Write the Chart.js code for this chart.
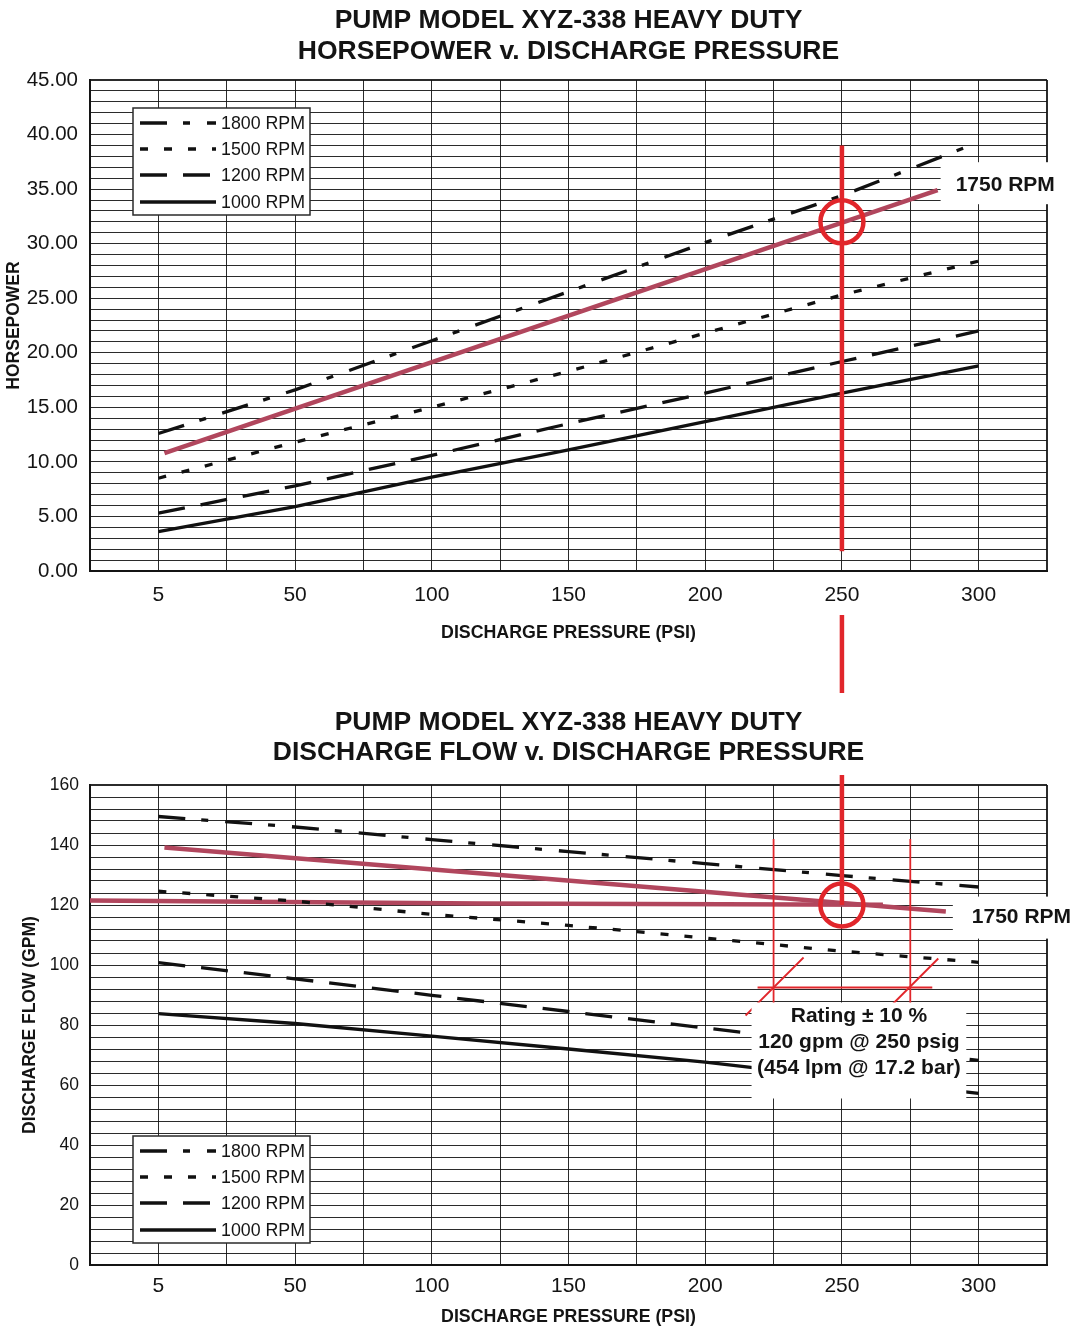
<!DOCTYPE html>
<html>
<head>
<meta charset="utf-8">
<title>Pump Model XYZ-338 Heavy Duty</title>
<script src="https://cdn.jsdelivr.net/npm/chart.js@4.4.1/dist/chart.umd.min.js"></script>
<style>
  html, body { margin: 0; padding: 0; background: #fff; }
  #wrap { position: relative; width: 1073px; height: 1328px; overflow: hidden; }
  canvas { position: absolute; left: 0; }
  #hp { top: 0; }
  #flow { top: 700px; }
</style>
</head>
<body>
<div id="wrap">
  <canvas id="hp" width="1073" height="700"></canvas>
  <canvas id="flow" width="1073" height="628"></canvas>
</div>
<script>
// ---- data -------------------------------------------------------------
// Pressure tick labels (psi); the chart spaces them evenly.
const PRESSURE_TICKS = [5, 50, 100, 150, 200, 250, 300];
const RPM_LABELS = ['1800 RPM', '1500 RPM', '1200 RPM', '1000 RPM'];

// Horsepower at each pressure tick
const HP_1800 = [12.6, 16.6, 21.1, 25.6, 30.1, 34.4, 39.3];
const HP_1500 = [8.5, 11.8, 15.0, 18.3, 21.8, 25.3, 28.4];
const HP_1200 = [5.3, 7.8, 10.6, 13.5, 16.3, 19.2, 22.0];
const HP_1000 = [3.6, 5.9, 8.6, 11.1, 13.7, 16.3, 18.8];
const HP_1750_PSI = [7, 285];
const HP_1750 = [10.8, 34.9];

// Discharge flow (gpm) at each pressure tick
const GPM_1800 = [149.5, 146.0, 141.8, 137.8, 133.8, 129.8, 126.0];
const GPM_1500 = [124.6, 121.3, 116.9, 113.2, 109.0, 104.6, 100.9];
const GPM_1200 = [100.8, 95.4, 89.9, 84.5, 79.0, 73.6, 68.2];
const GPM_1000 = [83.8, 80.5, 76.3, 72.0, 67.6, 62.4, 57.2];
const GPM_1750_PSI = [7, 288];
const GPM_1750 = [139.2, 117.8];
const GPM_1750_FLAT_PSI = [-17.5, 118, 265];
const GPM_1750_FLAT = [121.5, 120.5, 120.1];

// Rated duty point
const RATED_PSI = 250;
const RATED_HP = 32;
const RATED_GPM = 120;
const RATING_TOLERANCE = 0.10;

// ---- styling ----------------------------------------------------------
const FONT = '"Liberation Sans", Arial, Helvetica, sans-serif';
const INK = '#141414';
const GRID = 'rgba(20,20,20,0.9)';
const RED = '#e1262b';
const CRIMSON = '#b1465d';
const DASHES = { '1800 RPM': [27, 16, 7, 17], '1500 RPM': [8, 16], '1200 RPM': [27, 16], '1000 RPM': [] };

// Map a pressure onto the evenly spaced tick positions.
function psiToPos(p) {
  const t = PRESSURE_TICKS, n = t.length;
  let i = 0;
  if (p >= t[n - 1]) i = n - 2;
  else if (p > t[0]) { while (p > t[i + 1]) i++; }
  return i + (p - t[i]) / (t[i + 1] - t[i]);
}
const points = (psi, vals) => psi.map((p, i) => ({ x: psiToPos(p), y: vals[i] }));

function rpmSet(label, vals) {
  return {
    label, data: points(PRESSURE_TICKS, vals),
    borderColor: '#111', borderWidth: 3.3, borderDash: DASHES[label],
    borderCapStyle: 'butt', pointRadius: 0, fill: false, tension: 0
  };
}
function redSet(label, psi, vals) {
  return {
    label, data: points(psi, vals),
    borderColor: CRIMSON, borderWidth: 4.5, borderCapStyle: 'butt',
    pointRadius: 0, fill: false, tension: 0
  };
}

// Boxed key of the RPM curves, drawn over the plot.
const rpmLegend = {
  id: 'rpmLegend',
  afterDatasetsDraw(chart, args, o) {
    const { ctx, chartArea: a } = chart;
    const w = 177, h = 107;
    const left = a.left + 43;
    const top = o.fromTop ? a.top + 28 : a.bottom - 22 - h;
    ctx.save();
    ctx.fillStyle = '#fff';
    ctx.fillRect(left, top, w, h);
    ctx.strokeStyle = '#2a2a2a';
    ctx.lineWidth = 1.5;
    ctx.strokeRect(left, top, w, h);
    const sets = chart.data.datasets.filter(d => RPM_LABELS.includes(d.label));
    sets.forEach((d, i) => {
      const y = Math.round(top + 14.5 + i * 26.4);
      ctx.beginPath();
      ctx.setLineDash(d.borderDash || []);
      ctx.lineWidth = 3.6;
      ctx.strokeStyle = d.borderColor;
      ctx.moveTo(left + 7, y);
      ctx.lineTo(left + 83, y);
      ctx.stroke();
      ctx.setLineDash([]);
      ctx.fillStyle = INK;
      ctx.font = '17.8px ' + FONT;
      ctx.textAlign = 'left';
      ctx.textBaseline = 'middle';
      ctx.fillText(d.label, left + 88, y + 1);
    });
    ctx.restore();
  }
};

// Rated point, guide lines and the 1750 RPM labels.
const ratingMarks = {
  id: 'ratingMarks',
  afterDatasetsDraw(chart, args, o) {
    const { ctx, chartArea: a, scales: { x, y } } = chart;
    const cx = x.getPixelForValue(psiToPos(RATED_PSI));
    const cy = y.getPixelForValue(o.rated);
    const seg = (x1, y1, x2, y2) => { ctx.beginPath(); ctx.moveTo(x1, y1); ctx.lineTo(x2, y2); ctx.stroke(); };
    ctx.save();
    ctx.lineCap = 'butt';

    // thick guide through the rated pressure
    ctx.strokeStyle = RED;
    ctx.lineWidth = 4.5;
    if (o.flow) {
      seg(cx, a.top - 10, cx, cy);
    } else {
      seg(cx, y.getPixelForValue(39), cx, y.getPixelForValue(1.8));
      seg(cx, a.bottom + 44, cx, a.bottom + 122);
    }
    ctx.beginPath();
    ctx.arc(cx, cy, 21.5, 0, Math.PI * 2);
    ctx.stroke();

    if (o.flow) {
      // +/- tolerance band on pressure
      const xl = x.getPixelForValue(psiToPos(RATED_PSI * (1 - RATING_TOLERANCE)));
      const xr = x.getPixelForValue(psiToPos(RATED_PSI * (1 + RATING_TOLERANCE)));
      const yTop = y.getPixelForValue(142);
      const yDim = y.getPixelForValue(92.5);
      const yEnd = y.getPixelForValue(85);
      ctx.lineWidth = 1.8;
      seg(xl, yTop, xl, yEnd);
      seg(xr, yTop, xr, yEnd);
      seg(xl - 16, yDim, xr + 22, yDim);
      seg(xl + 30, yDim - 30, xl - 28, yDim + 28);
      seg(xr + 28, yDim - 29, xr - 28, yDim + 27);

      const bl = xl - 22, br = xr + 56, bt = yDim + 15, bb = yDim + 111;
      ctx.fillStyle = '#fff';
      ctx.fillRect(bl, bt, br - bl, bb - bt);
      ctx.fillStyle = INK;
      ctx.font = 'bold 21px ' + FONT;
      ctx.textAlign = 'center';
      ctx.textBaseline = 'middle';
      const mid = (bl + br) / 2;
      ctx.fillText('Rating \u00B1 10 %', mid, yDim + 29);
      ctx.fillText('120 gpm @ 250 psig', mid, yDim + 55);
      ctx.fillText('(454 lpm @ 17.2 bar)', mid, yDim + 81);
    }

    // "1750 RPM" tag at the end of the 1750 curve
    const meta = chart.getDatasetMeta(o.tagSet);
    const end = meta.data[meta.data.length - 1];
    const bx = end.x + o.tagDx;
    const by = end.y + o.tagDy;
    ctx.fillStyle = '#fff';
    ctx.fillRect(bx, by, chart.width - bx, 42);
    ctx.fillStyle = INK;
    ctx.font = 'bold 21px ' + FONT;
    ctx.textAlign = 'left';
    ctx.textBaseline = 'middle';
    ctx.fillText('1750 RPM', bx + o.tagPad, by + o.tagMid);
    ctx.restore();
  }
};

function options(cfg) {
  const lastPos = PRESSURE_TICKS.length - 0.5;
  return {
    responsive: false,
    animation: false,
    devicePixelRatio: 1,
    events: [],
    layout: { padding: { left: 0, right: 26, top: 0, bottom: cfg.padBottom } },
    plugins: {
      legend: { display: false },
      tooltip: { enabled: false },
      title: {
        display: true, text: cfg.title, fullSize: false, color: INK,
        font: { family: FONT, size: 26.5, weight: 'bold', lineHeight: cfg.titleLine / 26.5 },
        padding: cfg.titlePad
      },
      rpmLegend: cfg.legend,
      ratingMarks: cfg.marks
    },
    scales: {
      x: {
        type: 'linear', min: -0.5, max: lastPos,
        afterFit: s => { s.height = cfg.xHeight; },
        ticks: {
          stepSize: 0.5, autoSkip: false, maxRotation: 0, maxTicksLimit: 100,
          padding: cfg.xTickPad, color: INK, font: { family: FONT, size: 21 },
          callback: v => Number.isInteger(v) ? String(PRESSURE_TICKS[v]) : ''
        },
        grid: { color: GRID, drawTicks: false, lineWidth: c => (c.tick && c.tick.value === lastPos) ? 2 : 1 },
        border: { color: INK, width: 2 },
        title: {
          display: true, text: 'DISCHARGE PRESSURE (PSI)', color: INK,
          font: { family: FONT, size: 17.8, weight: 'bold' },
          padding: { top: 0, bottom: cfg.xTitlePad }
        }
      },
      y: {
        type: 'linear', min: 0, max: cfg.yMax,
        afterFit: s => { s.width = 90; },
        ticks: {
          stepSize: cfg.yStep, autoSkip: false, maxTicksLimit: 100,
          padding: cfg.yTickPad, color: INK, font: { family: FONT, size: cfg.yFont },
          callback: cfg.yLabel
        },
        grid: { color: GRID, drawTicks: false, lineWidth: c => (c.tick && c.tick.value === cfg.yMax) ? 2 : 1 },
        border: { color: INK, width: 2 },
        title: {
          display: true, text: cfg.yTitle, color: INK,
          font: { family: FONT, size: 17.5, weight: 'bold' },
          padding: { top: cfg.yTitlePad, bottom: 0 }
        }
      }
    }
  };
}

// Horsepower v. discharge pressure
new Chart(document.getElementById('hp'), {
  type: 'line',
  data: {
    datasets: [
      rpmSet('1800 RPM', HP_1800),
      rpmSet('1500 RPM', HP_1500),
      rpmSet('1200 RPM', HP_1200),
      rpmSet('1000 RPM', HP_1000),
      redSet('1750 RPM', HP_1750_PSI, HP_1750)
    ]
  },
  options: options({
    title: ['PUMP MODEL XYZ-338 HEAVY DUTY', 'HORSEPOWER v. DISCHARGE PRESSURE'],
    titleLine: 31, titlePad: { top: 5, bottom: 13 },
    padBottom: 54, xHeight: 75, xTickPad: 12, xTitlePad: 2,
    yMax: 45, yStep: 1, yFont: 20.5, yTickPad: 12,
    yLabel: v => v % 5 === 0 ? v.toFixed(2) : '',
    yTitle: 'HORSEPOWER', yTitlePad: 3.5,
    legend: { fromTop: true },
    marks: { flow: false, rated: RATED_HP, tagSet: 4, tagDx: 3, tagDy: -28, tagPad: 15, tagMid: 23 }
  }),
  plugins: [rpmLegend, ratingMarks]
});

// Discharge flow v. discharge pressure
new Chart(document.getElementById('flow'), {
  type: 'line',
  data: {
    datasets: [
      rpmSet('1800 RPM', GPM_1800),
      rpmSet('1500 RPM', GPM_1500),
      rpmSet('1200 RPM', GPM_1200),
      rpmSet('1000 RPM', GPM_1000),
      redSet('1750 RPM', GPM_1750_PSI, GPM_1750),
      redSet('1750 RPM rating', GPM_1750_FLAT_PSI, GPM_1750_FLAT)
    ]
  },
  options: options({
    title: ['PUMP MODEL XYZ-338 HEAVY DUTY', 'DISCHARGE FLOW v. DISCHARGE PRESSURE'],
    titleLine: 30, titlePad: { top: 7.5, bottom: 17.5 },
    padBottom: 0, xHeight: 63, xTickPad: 8.4, xTitlePad: 0.5,
    yMax: 160, yStep: 4, yFont: 17.5, yTickPad: 11,
    yLabel: v => v % 20 === 0 ? String(v) : '',
    yTitle: 'DISCHARGE FLOW (GPM)', yTitlePad: 19.5,
    legend: { fromTop: false },
    marks: { flow: true, rated: RATED_GPM, tagSet: 4, tagDx: 7, tagDy: -15, tagPad: 19, tagMid: 21 }
  }),
  plugins: [rpmLegend, ratingMarks]
});
</script>
</body>
</html>
